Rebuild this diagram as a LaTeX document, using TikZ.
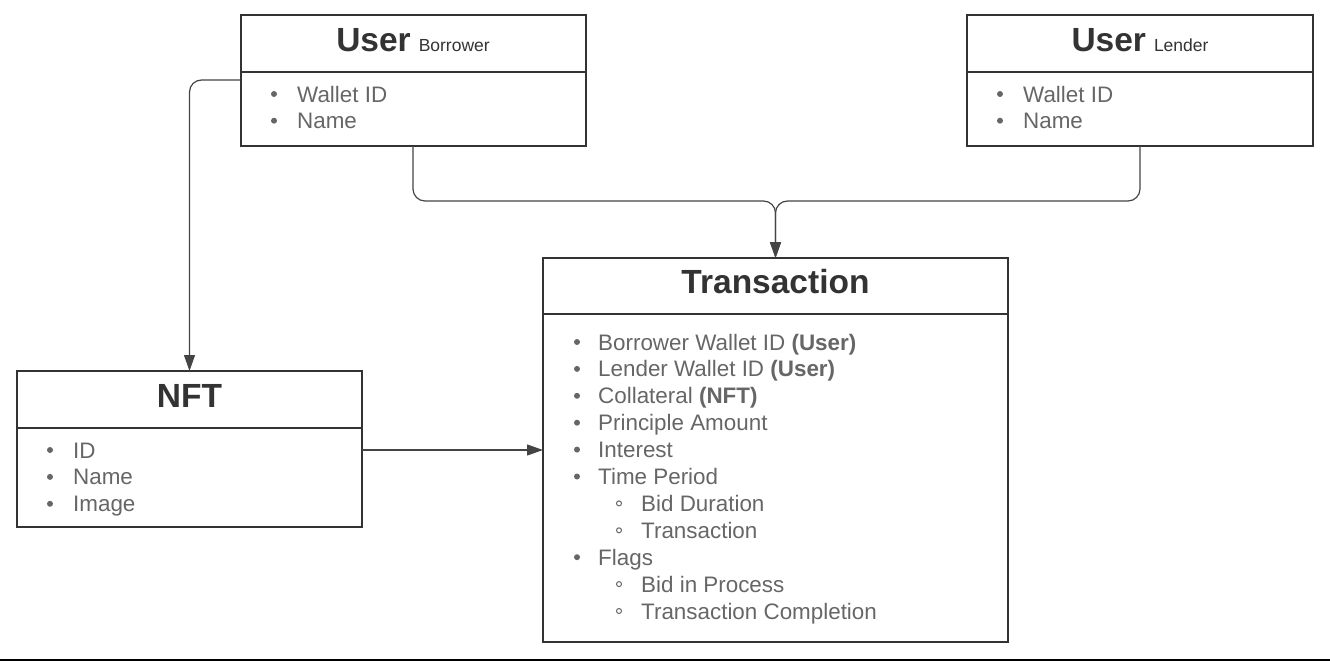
\documentclass[tikz,border=0pt]{standalone}
\usepackage{fontspec}
\setmainfont{Liberation Sans}
\usetikzlibrary{arrows.meta,positioning,calc}
\definecolor{boxline}{RGB}{51,51,51}
\definecolor{titletext}{RGB}{51,51,51}
\definecolor{itemtext}{RGB}{102,102,102}
\definecolor{linkline}{RGB}{68,68,68}
\newcommand\rolefont{\fontsize{17.5}{20}\selectfont\mdseries}
\tikzset{
  hdrbox/.style={rectangle, draw=boxline, line width=2pt, outer sep=0pt, inner sep=0pt},
  bodybox/.style={hdrbox},
  title/.style={anchor=base, inner sep=0pt, font=\fontsize{33.5}{36}\selectfont\bfseries, text=titletext},
  item/.style={anchor=base west, inner sep=0pt, font=\fontsize{22.4}{26}\selectfont, text=itemtext},
  bul1/.style={circle, fill=itemtext, inner sep=0pt, minimum size=6pt},
  bul2/.style={circle, draw=itemtext, line width=1pt, inner sep=0pt, minimum size=5pt},
  link/.style={draw=linkline, line width=1.2pt, rounded corners=12pt,
               -{Triangle[length=16pt, width=11pt]}},
}
\begin{document}
\begin{tikzpicture}[x=1pt, y=-1pt]
  \useasboundingbox (0,0) rectangle (1330,661);

  % User (borrower)
  \node[hdrbox, minimum width=345pt, minimum height=57pt] (borrowerhd) at (413,43.5) {};
  \node[bodybox, minimum width=345pt, minimum height=74pt, below=0pt of borrowerhd] (borrowerbd) {};
  \node[title] (borrowerttl) at (413,52) {User\hspace{8pt}\rolefont Borrower};

  % User (lender)
  \node[hdrbox, minimum width=346pt, minimum height=57pt] (lenderhd) at (1140,43.5) {};
  \node[bodybox, minimum width=346pt, minimum height=74pt, below=0pt of lenderhd] (lenderbd) {};
  \node[title] (lenderttl) at (1140,52) {User\hspace{8pt}\rolefont Lender};

  \foreach \who/\x in {borrower/241, lender/967}
    \foreach \txt [count=\i] in {Wallet ID, Name} {
      \node[bul1] (\who b\i) at (\x+33, 94+26.7*\i-26.7) {};
      \node[item] (\who i\i) at (\x+56, 102+26.7*\i-26.7) {\txt};
    }

  % NFT
  \node[hdrbox, minimum width=345pt, minimum height=57pt] (nfthd) at (189.5,399.5) {};
  \node[bodybox, minimum width=345pt, minimum height=99pt, below=0pt of nfthd] (nftbd) {};
  \node[title] (nftttl) at (189.5,407) {NFT};
  \foreach \txt [count=\i] in {ID, Name, Image} {
    \node[bul1] (nftb\i) at (50, 450+26.9*\i-26.9) {};
    \node[item] (nfti\i) at (73, 458+26.9*\i-26.9) {\txt};
  }

  % Transaction
  \node[hdrbox, minimum width=465pt, minimum height=56pt] (trhd) at (775.5,286) {};
  \node[bodybox, minimum width=465pt, minimum height=328pt, below=0pt of trhd] (trbd) {};
  \node[title] (trttl) at (775.5,293) {Transaction};
  \foreach \lvl/\txt [count=\i] in {1/Borrower Wallet ID \textbf{(User)},
      1/Lender Wallet ID \textbf{(User)}, 1/Collateral \textbf{(NFT)},
      1/Principle Amount, 1/Interest, 1/Time Period, 2/Bid Duration,
      2/Transaction, 1/Flags, 2/Bid in Process, 2/Transaction Completion} {
    \node[bul\lvl] (trb\i) at (577+42*\lvl-42, 342+26.9*\i-26.9) {};
    \node[item] (tri\i) at (598+43*\lvl-43, 350+26.9*\i-26.9) {\txt};
  }

  % connectors
  \coordinate (merge) at (trhd.north |- 0,201);
  \draw[link] (borrowerbd.south) |- (merge) -- (trhd.north);
  \draw[link] (lenderbd.south) |- (merge) -- (trhd.north);
  \draw[link] ([yshift=-8pt]borrowerhd.south west) -| (nfthd.north);
  \draw[link] ([yshift=27.5pt]nftbd.east) coordinate (nftout) -- (nftout -| trbd.west);

  \fill[black] (0,659) rectangle (1330,661);
\end{tikzpicture}
\end{document}
